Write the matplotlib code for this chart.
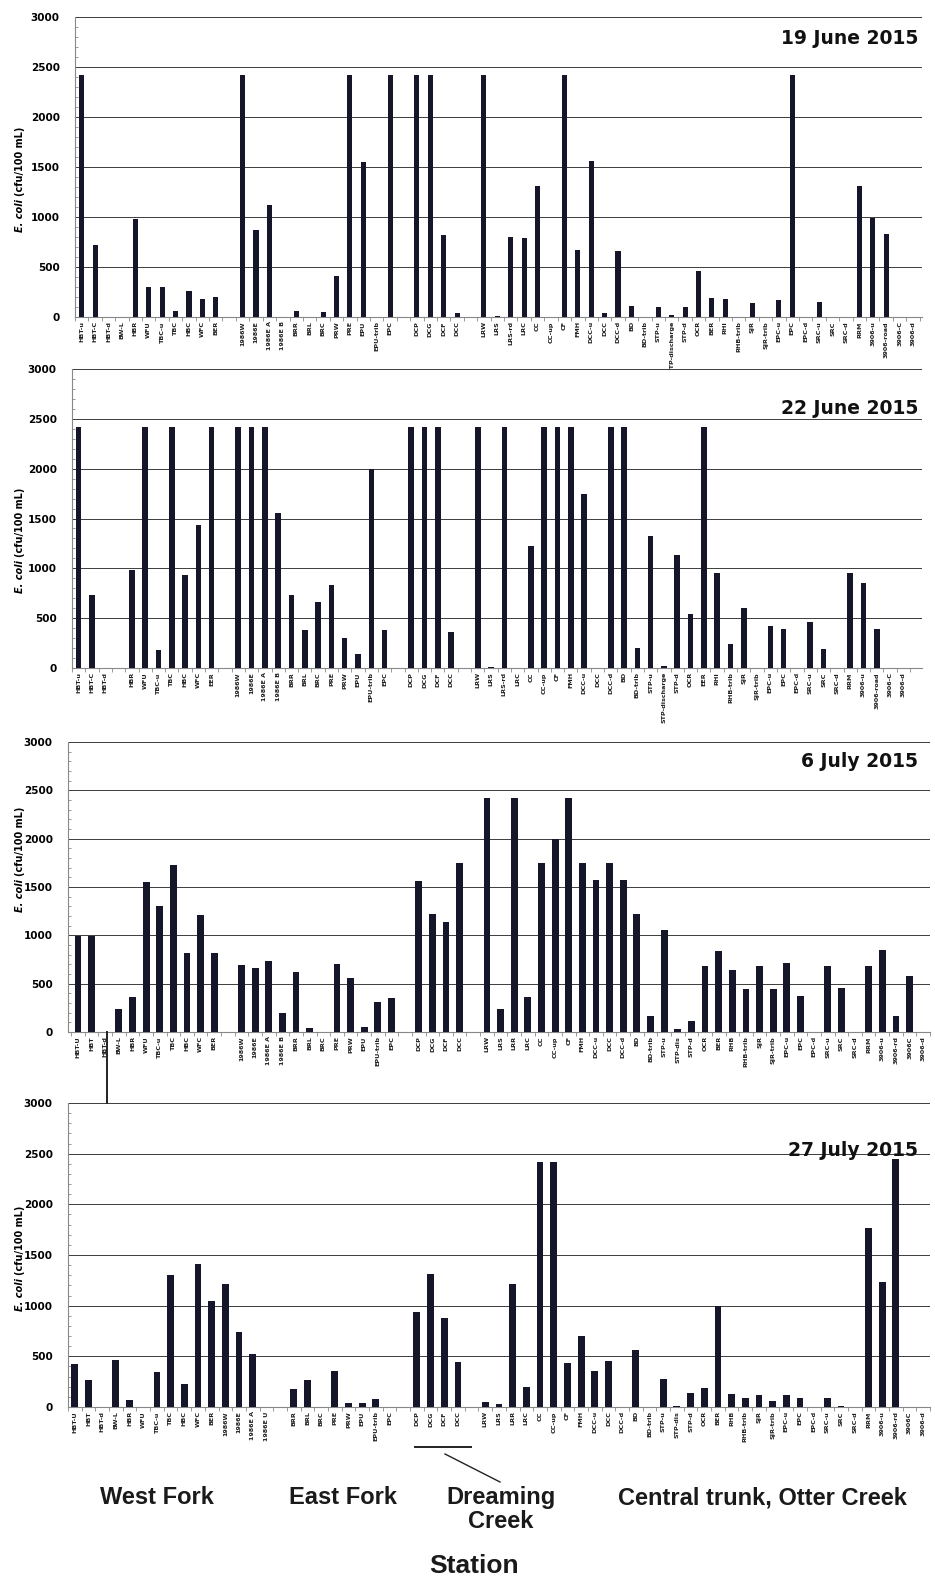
import numpy as np
import matplotlib
matplotlib.use("Agg")
import matplotlib.pyplot as plt
from matplotlib.lines import Line2D
from matplotlib.ticker import MultipleLocator

nan = np.nan

# ---- data (None / nan = empty slot on the axis) ----
dates = ["19 June 2015", "22 June 2015", "6 July 2015", "27 July 2015"]

stations_jun19 = [
    "HBT-u", "HBT-C", "HBT-d", "BW-L", "HBR", "WFU", "TBC-u", "TBC", "HBC", "WFC", "BER", None,
    "1986W", "1986E", "1986E A", "1986E B", "BRR", "BRL", "BRC", "PRW", "PRE", "EPU", "EPU-trib", "EPC", None,
    "DCP", "DCG", "DCF", "DCC", None,
    "LRW", "LRS", "LRS-rd", "LRC", "CC", "CC-up", "CF", "FMH", "DCC-u", "DCC", "DCC-d", "BD", "BD-trib",
    "STP-u", "STP-discharge", "STP-d", "OCR", "BER", "RHI", "RHB-trib", "SJR", "SJR-trib", "EPC-u", "EPC",
    "EPC-d", "SRC-u", "SRC", "SRC-d", "RRM", "3906-u", "3906-road", "3906-C", "3906-d"]
ecoli_jun19 = [
    2420, 720, 0, 0, 980, 300, 300, 60, 260, 180, 200, nan,
    2420, 870, 1120, 0, 60, 0, 50, 410, 2420, 1550, 0, 2420, nan,
    2420, 2420, 820, 45, nan,
    2420, 15, 800, 790, 1310, 0, 2420, 670, 1560, 45, 660, 110, 0,
    100, 20, 105, 460, 195, 180, 0, 145, 0, 170, 2420,
    0, 150, 0, 0, 1310, 990, 830, 0, 0]

stations_jun22 = [
    "HBT-u", "HBT-C", "HBT-d", None, "HBR", "WFU", "TBC-u", "TBC", "HBC", "WFC", "EER", None,
    "1986W", "1986E", "1986E A", "1986E B", "BRR", "BRL", "BRC", "PRE", "PRW", "EPU", "EPU-trib", "EPC", None,
    "DCP", "DCG", "DCF", "DCC", None,
    "LRW", "LRS", "LRS-rd", "LRC", "CC", "CC-up", "CF", "FMH", "DCC-u", "DCC", "DCC-d", "BD", "BD-trib",
    "STP-u", "STP-discharge", "STP-d", "OCR", "EER", "RHI", "RHB-trib", "SJR", "SJR-trib", "EPC-u", "EPC",
    "EPC-d", "SRC-u", "SRC", "SRC-d", "RRM", "3906-u", "3906-road", "3906-C", "3906-d"]
ecoli_jun22 = [
    2420, 730, 0, nan, 980, 2420, 180, 2420, 930, 1430, 2420, nan,
    2420, 2420, 2420, 1560, 730, 380, 660, 830, 300, 145, 2000, 380, nan,
    2420, 2420, 2420, 360, nan,
    2420, 15, 2420, 0, 1220, 2420, 2420, 2420, 1750, 0, 2420, 2420, 200,
    1320, 20, 1130, 540, 2420, 950, 240, 600, 0, 420, 390,
    0, 460, 190, 0, 950, 850, 390, 0, 0]

stations_jul06 = [
    "HBT-U", "HBT", "HBT-d", "BW-L", "HBR", "WFU", "TBC-u", "TBC", "HBC", "WFC", "BER", None,
    "1986W", "1986E", "1986E A", "1986E B", "BRR", "BRL", "BRC", "PRE", "PRW", "EPU", "EPU-trib", "EPC", None,
    "DCP", "DCG", "DCF", "DCC", None,
    "LRW", "LRS", "LRR", "LRC", "CC", "CC-up", "CF", "FMH", "DCC-u", "DCC", "DCC-d", "BD", "BD-trib",
    "STP-u", "STP-dis", "STP-d", "OCR", "BER", "RHB", "RHB-trib", "SJR", "SJR-trib", "EPC-u", "EPC",
    "EPC-d", "SRC-u", "SRC", "SRC-d", "RRM", "3906-u", "3906-rd", "3906C", "3906-d"]
ecoli_jul06 = [
    990, 990, 0, 240, 360, 1550, 1300, 1730, 820, 1210, 820, nan,
    690, 660, 730, 200, 620, 40, 0, 700, 560, 50, 310, 350, nan,
    1560, 1220, 1140, 1750, nan,
    2420, 240, 2420, 360, 1750, 2000, 2420, 1750, 1570, 1750, 1570, 1220, 170,
    1060, 30, 110, 680, 840, 640, 440, 680, 450, 710, 370,
    0, 680, 460, 0, 680, 850, 170, 580, 0]

stations_jul27 = [
    "HBT-U", "HBT", "HBT-d", "BW-L", "HBR", "WFU", "TBC-u", "TBC", "HBC", "WFC", "BER",
    "1986W", "1986E", "1986E A", "1986E U", None,
    "BRR", "BRL", "BRC", "PRE", "PRW", "EPU", "EPU-trib", "EPC", None,
    "DCP", "DCG", "DCF", "DCC", None,
    "LRW", "LRS", "LRR", "LRC", "CC", "CC-up", "CF", "FMH", "DCC-u", "DCC", "DCC-d", "BD", "BD-trib",
    "STP-u", "STP-dis", "STP-d", "OCR", "BER", "RHB", "RHB-trib", "SJR", "SJR-trib", "EPC-u", "EPC",
    "EPC-d", "SRC-u", "SRC", "SRC-d", "RRM", "3906-u", "3906-rd", "3906C", "3906-d"]
ecoli_jul27 = [
    420, 270, 0, 460, 65, 0, 350, 1300, 230, 1410, 1050,
    1210, 740, 520, 0, nan,
    175, 270, 0, 360, 35, 35, 80, 0, nan,
    940, 1310, 880, 440, nan,
    50, 30, 1210, 200, 2420, 2420, 430, 700, 360, 450, 0, 560, 0,
    280, 10, 140, 185, 1000, 125, 85, 115, 55, 120, 90,
    0, 85, 10, 0, 1770, 1230, 2450, 0, 0]

groups = ["West Fork", "East Fork", "Dreaming\nCreek", "Central trunk, Otter Creek"]

panels = [(stations_jun19, ecoli_jun19), (stations_jun22, ecoli_jun22),
          (stations_jul06, ecoli_jul06), (stations_jul27, ecoli_jul27)]

# ---- layout (pixels of the 935x1581 figure) ----
W, H = 935, 1581
boxes = [(75, 922, 17, 317), (72, 922, 369, 668), (68, 930, 742, 1032), (68, 930, 1103, 1407)]
xlims = [(-0.22, 62.67), (-0.45, 63.4), (-0.73, 62.37), (-0.5, 62.37)]
bar_w = [0.38, 0.42, 0.5, 0.5]
title_y = [38, 409, 762, 1151]
ylab_y = [180, 541, 860, 1259]
bar_color = "#16162a"

fig = plt.figure(figsize=(W / 100, H / 100), dpi=100)

for i, (labels, vals) in enumerate(panels):
    l, r, t, b = boxes[i]
    ax = fig.add_axes([l / W, 1 - b / H, (r - l) / W, (b - t) / H])
    x = np.arange(len(labels))
    v = np.array(vals, dtype=float)
    ok = ~np.isnan(v)
    ax.bar(x[ok], v[ok], width=bar_w[i], color=bar_color, zorder=3)

    ax.set_xlim(*xlims[i])
    ax.set_ylim(0, 3000)
    ax.set_yticks(range(0, 3001, 500))
    ax.yaxis.set_minor_locator(MultipleLocator(100))
    ax.grid(axis="y", color="#3c3c3c", lw=0.7, zorder=0)
    ax.set_axisbelow(True)

    ax.set_xticks(x, [s if s else "" for s in labels], rotation=90,
                  fontsize=4.6, fontweight="bold")
    ax.set_xticks(np.arange(len(labels) + 1) - 0.5, minor=True)
    ax.tick_params(axis="x", which="major", length=0, pad=3, colors="#202020")
    ax.tick_params(axis="x", which="minor", length=3, direction="out", color="#888888")
    ax.tick_params(axis="y", which="major", length=0, pad=11, labelsize=7.5)
    ax.tick_params(axis="y", which="minor", length=2.5, direction="in", color="#888888")
    for lab in ax.get_yticklabels():
        lab.set_fontweight("bold")

    for s in ("top", "right"):
        ax.spines[s].set_visible(False)
    ax.spines["left"].set_color("#888888")
    ax.spines["bottom"].set_color("#888888")

    # date in top right corner
    fig.text(918 / W, 1 - title_y[i] / H, dates[i], ha="right", va="center",
             fontsize=13.5, fontweight="bold", color="#111111")

    # y label: italic "E. coli" + unit above it
    y0 = 1 - (ylab_y[i] + 52) / H
    t1 = fig.text(20 / W, y0, "E. coli ", rotation=90, ha="center", va="bottom",
                  fontsize=7, fontweight="bold", style="italic")
    fig.text(0, 0, "(cfu/100 mL)", rotation=90, ha="center", va="bottom",
             fontsize=7, fontweight="bold")
    fig.texts[-1].remove()
    ax.annotate("(cfu/100 mL)", xy=(0.5, 1), xycoords=t1, rotation=90,
                ha="center", va="bottom", fontsize=7, fontweight="bold",
                annotation_clip=False)

# stray vertical line in the scan between panels 3 and 4
fig.add_artist(Line2D([107 / W, 107 / W], [1 - 1032 / H, 1 - 1103 / H],
                      transform=fig.transFigure, color="#222222", lw=1.4))

# underline + pointer for Dreaming Creek
fig.add_artist(Line2D([415 / W, 471 / W], [1 - 1447 / H, 1 - 1447 / H],
                      transform=fig.transFigure, color="#222222", lw=1.4))
fig.add_artist(Line2D([445 / W, 500 / W], [1 - 1454 / H, 1 - 1482 / H],
                      transform=fig.transFigure, color="#222222", lw=1.0))

# group names and axis title
gx = [157, 343, 501, 762]
for name, xp in zip(groups, gx):
    fig.text(xp / W, 1 - 1486 / H, name, ha="center", va="top", fontsize=17,
             fontweight="bold", family="Liberation Sans", linespacing=1.05,
             color="#1a1a1a")
fig.text(474 / W, 1 - 1566 / H, "Station", ha="center", va="center", fontsize=19,
         fontweight="bold", family="Liberation Sans", color="#1a1a1a")

fig.savefig("out.png", dpi=100)
